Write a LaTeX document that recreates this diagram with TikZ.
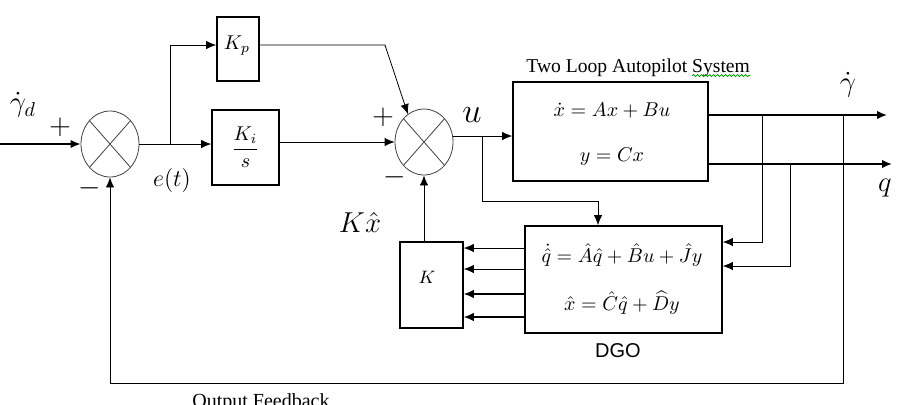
\documentclass[tikz,border=0pt]{standalone}
\usepackage{fontspec}
\usepackage{amsmath}
\setmainfont{Liberation Serif}
\newfontfamily\dgofont{Liberation Sans}
\usetikzlibrary{calc, positioning, shapes.geometric, decorations.pathmorphing, arrows.meta}

\tikzset{
  blk/.style={draw, thick, inner sep=0pt},
  sumnode/.style={draw=black!75, ellipse, minimum width=29pt, minimum height=33pt, inner sep=0pt,
    path picture={\draw[black!75] (path picture bounding box.north west) -- (path picture bounding box.south east)
      (path picture bounding box.north east) -- (path picture bounding box.south west);}},
  arr/.style={-{Latex[length=5pt, width=4.2pt]}},
  sgn/.style={font=\Large, inner sep=0pt}
}

\begin{document}
\begin{tikzpicture}[x=0.5pt, y=-0.5pt]
\useasboundingbox (0,0) rectangle (899,404);
\clip (0,0) rectangle (899,404);

% summing junctions
\node[sumnode] (s1) at (110,144) {};
\node[sumnode] (s2) at (424,142) {};
\node[sgn] (s1p) at (60,127) {$+$};
\node[sgn] (s1m) at (90,188) {$-$};
\node[sgn] (s2p) at (383,117) {$+$};
\node[sgn] (s2m) at (395,177) {$-$};

% PI controller
\node[blk, minimum width=21pt, minimum height=32pt] (kp) at (238,49) {};
\node (kplbl) at (237,46) {$K_p$};
\node[blk, minimum width=33.5pt, minimum height=37.5pt] (ki) at (245.5,147.5) {$\dfrac{K_i}{s}$};

% plant
\node[blk, minimum width=97.5pt, minimum height=49.5pt] (sys) at (610.5,131.5) {};
\node (sys1) at (612,110) {$\dot{x} = Ax + Bu$};
\node (sys2) at (612,157) {$y = Cx$};
\node[inner sep=0pt, anchor=base west] (syslbl) at (526,72) {\fontsize{9.8}{11}\selectfont Two Loop Autopilot System};
\draw[green!60!black, decorate, decoration={snake, amplitude=0.5pt, segment length=2pt}]
  ([xshift=-29pt, yshift=-1.8pt]syslbl.base east) -- ([yshift=-1.8pt]syslbl.base east);

% observer and gain
\node[blk, minimum width=98.5pt, minimum height=53.5pt] (dgo) at (623.5,279.5) {};
\node (dgo1) at (622,255) {$\dot{\hat{q}} = \hat{A}\hat{q} + \hat{B}u + \hat{J}y$};
\node (dgo2) at (622,303) {$\hat{x} = \hat{C}\hat{q} + \widehat{D}y$};
\node (dgolbl) at (618,351) {\dgofont DGO};
\node[blk, minimum width=31.5pt, minimum height=43pt] (kb) at (431.5,285) {};
\node (kblbl) at (427,277) {\small $K$};

% signal labels
\node[font=\Large] (gd) at (23,105) {$\dot{\gamma}_d$};
\node[font=\large] (et) at (172,180) {$e(t)$};
\node[font=\LARGE] (ul) at (472,115) {$u$};
\node[font=\Large] (kx) at (360,222) {$K\hat{x}$};
\node[font=\Large] (gl) at (848,85) {$\dot{\gamma}$};
\node[font=\Large] (ql) at (885,188) {$q$};
\node[inner sep=0pt, anchor=north] (fblbl) at (261,393) {Output Feedback};

% free ends and branch points
\coordinate (in) at (0,144);
\coordinate (br1) at (170,144);
\coordinate (kpc) at (385,45);
\coordinate (br2) at (482,136);
\coordinate (jn) at (598,201);
\coordinate (o1) at (887,115);
\coordinate (o2) at (892,164);
\coordinate (t1) at (762,115);
\coordinate (t2) at (790,164);
\coordinate (t3) at (843,115);
\coordinate (fb) at (0,383);

% forward path
\draw[arr, thick] (in) -- (s1.west);
\draw[arr] (s1.east) -- (ki.west |- s1.east);
\draw[arr] (br1) |- ([yshift=2pt]kp.west);
\draw[arr] (kp.east |- kpc) -- (kpc) -- (s2.120);
\draw[arr] (ki.east |- s2.west) -- (s2.west);
\draw[arr] (s2.east |- br2) -- (sys.west |- br2);
\draw[arr] (br2) |- (jn) -- (jn |- dgo.north);
\draw[arr, thick] (o1 -| sys.east) -- (o1);
\draw[arr, thick] (o2 -| sys.east) -- (o2);

% measurements into observer
\draw[arr] (t1) |- ([yshift=18.75pt]dgo.east);
\draw[arr] (t2) |- ([yshift=6.75pt]dgo.east);

% observer states to gain
\foreach \dy/\lw in {248/thin, 269/thin, 294/semithick, 317/semithick} {
  \coordinate (h) at (0,\dy);
  \draw[arr, \lw] (dgo.west |- h) -- (kb.east |- h);
}
\draw[arr] (kb.north -| s2.south) -- (s2.south);

% output feedback
\draw[arr] (t3) |- (s1.south |- fb) -- (s1.south);
\end{tikzpicture}
\end{document}
